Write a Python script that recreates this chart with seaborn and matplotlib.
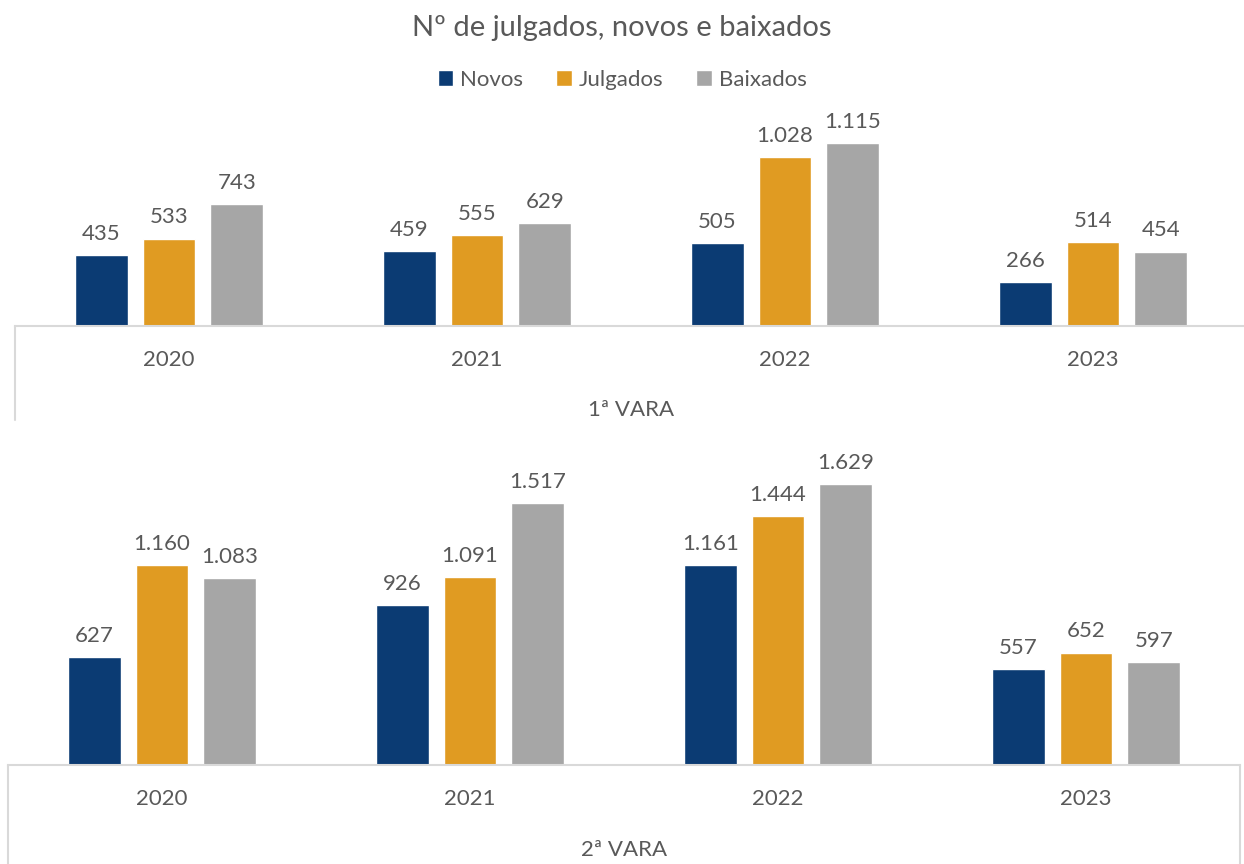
import pandas as pd
import seaborn as sns
import matplotlib.pyplot as plt
from matplotlib.lines import Line2D

anos = ['2020', '2021', '2022', '2023']
tipos = ['Novos', 'Julgados', 'Baixados']
vara1_novos = [435, 459, 505, 266]
vara1_julgados = [533, 555, 1028, 514]
vara1_baixados = [743, 629, 1115, 454]
vara2_novos = [627, 926, 1161, 557]
vara2_julgados = [1160, 1091, 1444, 652]
vara2_baixados = [1083, 1517, 1629, 597]

cores = ['#0b3b73', '#e09b22', '#a6a6a6']
cinza_txt = '#595959'
cinza_linha = '#d9d9d9'


def make_df(novos, julgados, baixados):
    rows = []
    for tipo, vals in zip(tipos, [novos, julgados, baixados]):
        for ano, v in zip(anos, vals):
            rows.append({'ano': ano, 'tipo': tipo, 'valor': v})
    return pd.DataFrame(rows)


def fmt(v):
    return f'{int(v):,}'.replace(',', '.')


sns.set_theme(style='white')
plt.rcParams['font.family'] = ['Lato', 'DejaVu Sans']

fig = plt.figure(figsize=(12.44, 8.64), dpi=100)
H = 864.0
W = 1244.0

# panel geometry in pixels: (left, baseline, right, ymax, px per unit, box bottom)
panels = [
    (15, 326, 1247, 1350, 0.164, 420, '1ª VARA', 410,
     make_df(vara1_novos, vara1_julgados, vara1_baixados)),
    (8, 765, 1240, 1800, 0.1725, 864, '2ª VARA', 850,
     make_df(vara2_novos, vara2_julgados, vara2_baixados)),
]

axes = []
for left, base, right, ymax, scale, box_bot, nome, nome_y, df in panels:
    h = ymax * scale
    ax = fig.add_axes([left / W, (H - base) / H, (right - left) / W, h / H])
    sns.barplot(data=df, x='ano', y='valor', hue='tipo', hue_order=tipos,
                palette=cores, width=0.66, gap=0.22, saturation=1,
                errorbar=None, ax=ax)
    ax.set_ylim(0, ymax)
    ax.set_xlim(-0.5, 3.5)
    for c in ax.containers:
        ax.bar_label(c, labels=[fmt(v) for v in c.datavalues], padding=8,
                     fontsize=16, color=cinza_txt)
    for s in ['top', 'left', 'right']:
        ax.spines[s].set_visible(False)
    ax.spines['bottom'].set_color(cinza_linha)
    ax.spines['bottom'].set_linewidth(1.5)
    ax.set_yticks([])
    ax.set_xlabel('')
    ax.set_ylabel('')
    ax.tick_params(axis='x', length=0, pad=17, labelsize=16, labelcolor=cinza_txt)
    ax.legend_.remove()
    # category box lines
    depth = -(box_bot - base) / h
    ax.add_line(Line2D([0, 0], [0, depth], transform=ax.transAxes,
                       color=cinza_linha, lw=1.5, clip_on=False))
    ax.add_line(Line2D([1, 1], [0, depth], transform=ax.transAxes,
                       color=cinza_linha, lw=1.5, clip_on=False))
    ax.text(0.5, -(nome_y - base) / h, nome, transform=ax.transAxes,
            ha='center', va='center', fontsize=16, color=cinza_txt)
    axes.append(ax)

handles, labels = axes[0].get_legend_handles_labels()
fig.legend(handles, labels, loc='center', bbox_to_anchor=(0.5, 1 - 80 / H),
           ncol=3, frameon=False, fontsize=16, labelcolor=cinza_txt,
           handlelength=0.7, handleheight=0.7, handletextpad=0.3,
           columnspacing=1.5)

fig.text(0.5, 1 - 28 / H, 'Nº de julgados, novos e baixados', ha='center',
         va='center', fontsize=21, color=cinza_txt)

plt.savefig('out.png', dpi=100)
